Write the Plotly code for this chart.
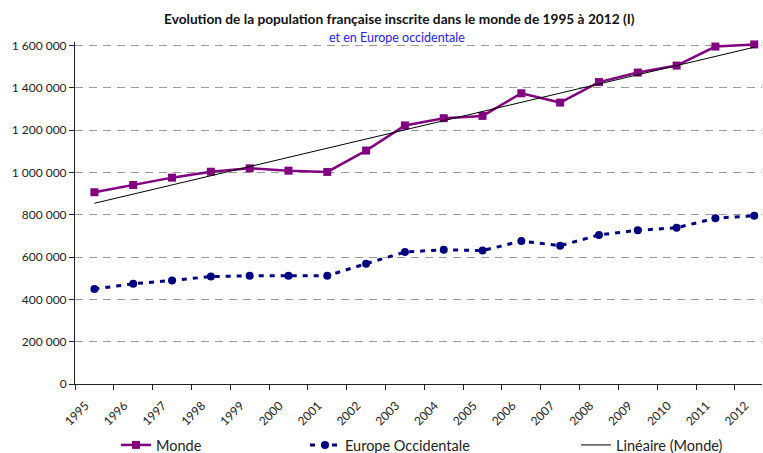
import numpy as np
import plotly.graph_objects as go

years = [str(y) for y in range(1995, 2013)]
monde = [907000, 941000, 976000, 1004000, 1020000, 1009000, 1003000, 1104000, 1223000,
         1257000, 1268000, 1375000, 1331000, 1428000, 1473000, 1506000, 1596000, 1606000]
europe = [449000, 474000, 490000, 508000, 512000, 512000, 512000, 569000, 624000,
          635000, 631000, 676000, 654000, 705000, 727000, 739000, 784000, 796000]
ytick_vals = [0, 200000, 400000, 600000, 800000, 1000000, 1200000, 1400000, 1600000]

idx = np.arange(len(years))
slope, intercept = np.polyfit(idx, monde, 1)
trend = slope * idx + intercept

FONT = "Lato"
PLOT_LEFT = 75
PLOT_W = 687
PLOT_BOTTOM = 384
PLOT_H = 342

def py(pix):
    return (PLOT_BOTTOM - pix) / PLOT_H

def px(pix):
    return (pix - PLOT_LEFT) / PLOT_W

fig = go.Figure()
fig.add_trace(go.Scatter(
    x=years, y=monde, name="Monde", mode="lines+markers",
    line=dict(color="#800080", width=2.5),
    marker=dict(symbol="square", size=8, color="#800080"),
    cliponaxis=False, legend="legend", showlegend=True))
fig.add_trace(go.Scatter(
    x=years, y=europe, name="Europe Occidentale", mode="lines+markers",
    line=dict(color="#000080", width=3, dash="5px,6px"),
    marker=dict(symbol="circle", size=8, color="#000080"),
    cliponaxis=False, legend="legend2", showlegend=True))
fig.add_trace(go.Scatter(
    x=years, y=trend, name="Linéaire (Monde)", mode="lines",
    line=dict(color="#000000", width=1),
    legend="legend3", showlegend=True))

legend_common = dict(orientation="h", xref="paper", yref="paper",
                     yanchor="middle", xanchor="left", bgcolor="rgba(0,0,0,0)",
                     font=dict(family=FONT, size=14.5, color="#222222"))
fig.update_layout(
    width=763, height=453,
    showlegend=True,
    margin=dict(l=75, r=1, t=42, b=69, autoexpand=False),
    paper_bgcolor="white", plot_bgcolor="white",
    separators=", ",
    font=dict(family=FONT, size=12, color="#222222"),
    legend=dict(x=px(116), y=py(445), **legend_common),
    legend2=dict(x=px(305), y=py(445), **legend_common),
    legend3=dict(x=px(576), y=py(445), **legend_common),
    xaxis=dict(
        type="category", range=[-0.5, 17.2], tickson="boundaries",
        ticks="outside", ticklen=5, tickcolor="#222222",
        showline=True, linecolor="#222222", linewidth=1,
        showgrid=False, tickangle=-45,
        ticklabelshift=-9, ticklabelstandoff=9,
        tickfont=dict(family=FONT, size=12, color="#222222")),
    yaxis=dict(
        range=[0, 1617500], tickvals=ytick_vals, tickformat=",d",
        ticks="outside", ticklen=5, tickcolor="#222222",
        showline=True, linecolor="#222222", linewidth=1,
        showgrid=True, gridcolor="#9a9a9a", griddash="8px,6px", gridwidth=1,
        zeroline=False,
        tickfont=dict(family=FONT, size=12, color="#222222")),
    annotations=[
        dict(text="<b>Evolution de la population française inscrite dans le monde de 1995 à 2012 (I)</b>",
             xref="paper", yref="paper", x=px(399), y=py(18), showarrow=False,
             xanchor="center", yanchor="middle",
             font=dict(family=FONT, size=13.7, color="#111111")),
        dict(text="et en Europe occidentale",
             xref="paper", yref="paper", x=px(397), y=py(37), showarrow=False,
             xanchor="center", yanchor="middle",
             font=dict(family=FONT, size=12.5, color="#2222ff")),
    ],
)

fig.write_html("out.html", config={"displayModeBar": False},
               post_script="document.body.style.margin='0px';")
